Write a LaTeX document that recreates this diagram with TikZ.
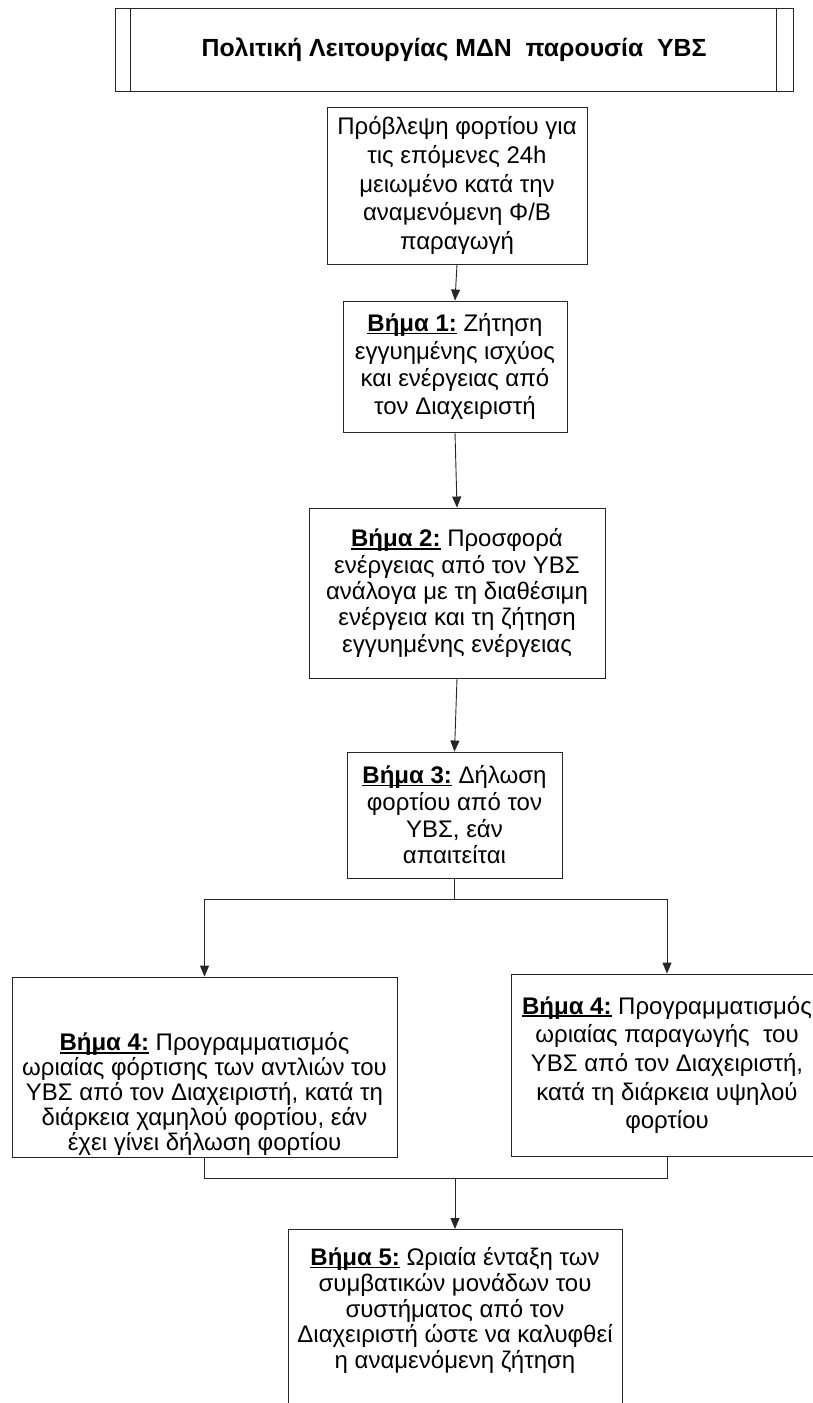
\documentclass[tikz,border=0pt]{standalone}
\usepackage{fontspec}
\setmainfont{Liberation Sans}
\usetikzlibrary{arrows.meta,calc}

\tikzset{
  stepbox/.style={draw=black!85, line width=0.9pt, align=center, inner sep=2pt,
    font=\fontsize{24pt}{27.5pt}\selectfont},
  steptext/.style={align=center, inner sep=0pt, font=\fontsize{24pt}{24.8pt}\selectfont},
  flow/.style={draw=black!85, line width=0.9pt, -{Triangle[length=11pt,width=9pt]}},
  wire/.style={draw=black!85, line width=0.9pt}
}
% bold step label, underlined just below the baseline
\newcommand{\stepname}[1]{\textbf{\setbox0\hbox{Βήμα #1:}\rlap{\rule[-2.6pt]{\wd0}{1.3pt}}\box0}}

\begin{document}
\begin{tikzpicture}[x=1pt,y=-1pt]
  \useasboundingbox (0,0) rectangle (813,1403);
  \clip (0,0) rectangle (813,1403);

  \node[stepbox, minimum width=678pt, minimum height=83pt,
    font=\fontsize{24.8pt}{28pt}\selectfont] (title) at (454,49.5)
    {\textbf{Πολιτική Λειτουργίας ΜΔΝ\ \ παρουσία\ \ ΥΒΣ}};
  \draw[wire] ([xshift=16pt]title.north west) -- ([xshift=16pt]title.south west);
  \draw[wire] ([xshift=-17pt]title.north east) -- ([xshift=-17pt]title.south east);

  \node[stepbox, minimum width=260pt, minimum height=157pt,
    font=\fontsize{24pt}{28.7pt}\selectfont] (fc) at (457,185.5)
    {Πρόβλεψη φορτίου για\\ τις επόμενες 24h\\ μειωμένο κατά την\\ αναμενόμενη Φ/Β\\ παραγωγή};
  \node[stepbox, minimum width=224pt, minimum height=131pt] (s1) at (455,366.5)
    {\stepname{1} Ζήτηση\\ εγγυημένης ισχύος\\ και ενέργειας από\\ τον Διαχειριστή};
  \node[stepbox, minimum width=296pt, minimum height=170pt,
    font=\fontsize{24pt}{26.3pt}\selectfont] (s2) at (457,593)
    {\stepname{2} Προσφορά\\ ενέργειας από τον ΥΒΣ\\ ανάλογα με τη διαθέσιμη\\ ενέργεια και τη ζήτηση\\ εγγυημένης ενέργειας};
  \node[stepbox, minimum width=215pt, minimum height=126pt,
    font=\fontsize{24pt}{26.7pt}\selectfont] (s3) at (454.5,815)
    {\stepname{3} Δήλωση\\ φορτίου από τον\\ ΥΒΣ, εάν\\ απαιτείται};
  % the left step 4 box has its text set low
  \node[stepbox, minimum width=385pt, minimum height=180pt] (s4a) at (204.5,1067) {};
  \node[steptext] (s4atext) at (204.5,1094)
    {\stepname{4} Προγραμματισμός\\ ωριαίας φόρτισης των αντλιών του\\ ΥΒΣ από τον Διαχειριστή, κατά τη\\ διάρκεια χαμηλού φορτίου, εάν\\ έχει γίνει δήλωση φορτίου};
  \node[stepbox, minimum width=312pt, minimum height=182pt,
    font=\fontsize{24pt}{28.7pt}\selectfont] (s4b) at (667,1065)
    {\stepname{4} Προγραμματισμός\\ ωριαίας παραγωγής\ \ του\\ ΥΒΣ από τον Διαχειριστή,\\ κατά τη διάρκεια υψηλού\\ φορτίου};
  \node[stepbox, minimum width=334pt, anchor=north, inner ysep=18pt, text depth=140pt,
    font=\fontsize{24pt}{25.8pt}\selectfont] (s5) at (455,1229)
    {\stepname{5} Ωριαία ένταξη των\\ συμβατικών μονάδων του\\ συστήματος από τον\\ Διαχειριστή ώστε να καλυφθεί\\ η αναμενόμενη ζήτηση};

  \draw[flow] (fc.south) -- (s1.north);
  \draw[flow] (s1.south) -- (s2.north);
  \draw[flow] (s2.south) -- (s3.north);

  % split to the two step 4 boxes
  \coordinate (split) at ($(s3.south)+(0,21)$);
  \draw[wire] (s3.south) -- (split);
  \draw[wire] (s4a.north |- split) -- (s4b.north |- split);
  \draw[flow] (s4a.north |- split) -- (s4a.north);
  \draw[flow] (s4b.north |- split) -- (s4b.north);

  % join into step 5
  \coordinate (join) at ($(s4a.south)+(0,21)$);
  \draw[wire] (s4a.south) -- (join) -- (s4b.south |- join) -- (s4b.south);
  \draw[flow] (s5.north |- join) -- (s5.north);
\end{tikzpicture}
\end{document}
